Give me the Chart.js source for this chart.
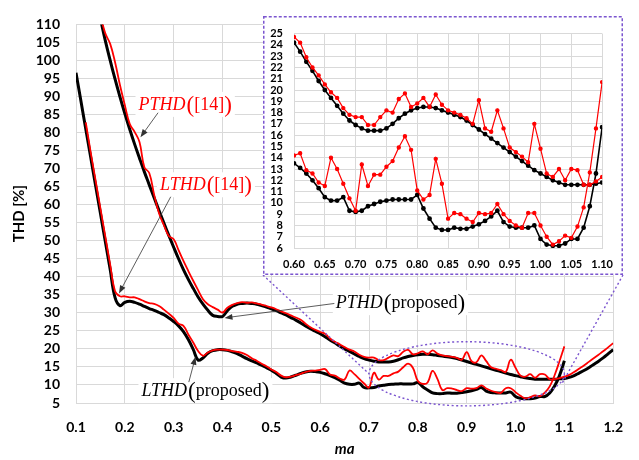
<!DOCTYPE html>
<html>
<head>
<meta charset="utf-8">
<script src="https://cdn.jsdelivr.net/npm/chart.js@4.4.1/dist/chart.umd.min.js"></script>
<style>
  html, body { margin: 0; padding: 0; background: #fff; }
  #wrap { position: relative; width: 639px; height: 460px; }
  #thdChart { position: absolute; left: 0; top: 0; }
  #zoomChart { position: absolute; left: 263px; top: 16px; }
</style>
</head>
<body>
<div id="wrap">
  <canvas id="thdChart" width="639" height="460"></canvas>
  <canvas id="zoomChart" width="360" height="259"></canvas>
</div>
<script>
// modulation index steps
const maLow = [0.10, 0.11, 0.12, 0.13, 0.14, 0.15, 0.16, 0.17, 0.18, 0.19,
  0.20, 0.21, 0.22, 0.23, 0.24, 0.25, 0.26, 0.27, 0.28, 0.29,
  0.30, 0.31, 0.32, 0.33, 0.34, 0.35, 0.36, 0.37, 0.38, 0.39,
  0.40, 0.41, 0.42, 0.43, 0.44, 0.45, 0.46, 0.47, 0.48, 0.49,
  0.50, 0.51, 0.52, 0.53, 0.54, 0.55, 0.56, 0.57, 0.58, 0.59];
const maZoom = [0.60, 0.61, 0.62, 0.63, 0.64, 0.65, 0.66, 0.67, 0.68, 0.69,
  0.70, 0.71, 0.72, 0.73, 0.74, 0.75, 0.76, 0.77, 0.78, 0.79,
  0.80, 0.81, 0.82, 0.83, 0.84, 0.85, 0.86, 0.87, 0.88, 0.89,
  0.90, 0.91, 0.92, 0.93, 0.94, 0.95, 0.96, 0.97, 0.98, 0.99,
  1.00, 1.01, 1.02, 1.03, 1.04, 1.05, 1.06, 1.07, 1.08, 1.09, 1.10];
const maHigh = [1.11, 1.12, 1.13, 1.14, 1.15, 1.16, 1.17, 1.18, 1.19, 1.20];

// PTHD, proposed
const ptPropLow = [null, null, null, null, 117.5, 111.6, 105.5, 100.0, 94.8, 89.9,
  85.3, 80.9, 76.8, 72.9, 69.1, 65.5, 61.9, 58.4, 54.9, 51.5,
  48.2, 45.0, 42.0, 39.3, 36.8, 34.4, 32.4, 30.7, 29.3, 29.0,
  29.0, 30.6, 31.8, 32.4, 32.6, 32.7, 32.6, 32.4, 32.0, 31.6,
  31.1, 30.6, 30.0, 29.4, 28.7, 28.0, 27.2, 26.4, 25.6, 24.9];
const ptPropZoom = [24.2, 23.4, 22.5, 21.7, 20.8, 20.0, 19.3, 18.6, 17.9, 17.3,
  16.9, 16.6, 16.4, 16.4, 16.4, 16.6, 17.0, 17.5, 17.9, 18.2,
  18.4, 18.5, 18.5, 18.4, 18.2, 18.0, 17.8, 17.6, 17.3, 16.9,
  16.5, 16.1, 15.7, 15.3, 14.9, 14.5, 14.1, 13.7, 13.3, 12.9,
  12.6, 12.3, 12.0, 11.8, 11.6, 11.6, 11.6, 11.6, 11.6, 11.7, 11.8];
const ptPropHigh = [12.1, 12.6, 13.3, 14.0, 14.8, 15.7, 16.6, 17.6, 18.7, 19.8];

// PTHD, method of [14]
const ptRefLow = [null, null, null, null, null, 112.5, 107.5, 104.6, 99.5, 93.2,
  87.6, 82.4, 80.2, 77.4, 70.4, 68.8, 62.8, 57.6, 54.3, 51.3,
  50.4, 47.4, 44.4, 41.6, 38.9, 36.3, 33.8, 32.4, 31.6, 30.9,
  30.1, 31.4, 32.2, 32.7, 33.0, 32.8, 32.9, 32.6, 32.3, 31.9,
  31.5, 31.0, 30.4, 29.9, 29.3, 28.7, 28.1, 27.0, 26.0, 25.3];
const ptRefZoom = [24.7, 24.2, 22.9, 22.0, 21.3, 20.5, 19.8, 19.3, 18.4, 17.8,
  17.6, 17.6, 16.9, 16.9, 17.6, 18.2, 18.0, 19.2, 19.7, 18.5,
  18.8, 19.3, 18.5, 19.6, 18.7, 18.2, 18.0, 17.8, 17.5, 17.0,
  19.1, 16.6, 16.3, 18.2, 16.6, 14.9, 14.5, 14.1, 13.6, 17.0,
  14.8, 12.6, 12.3, 13.0, 12.0, 13.0, 12.9, 11.6, 11.6, 11.9, 12.3];
const ptRefHigh = [12.8, 13.6, 14.5, 15.4, 16.4, 17.4, 18.4, 19.4, 20.5, 21.6];

// LTHD, proposed
const ltPropLow = [96.6, 88.8, 81.0, 73.2, 65.4, 57.6, 49.8, 42.0, 34.2, 32.0,
  32.9, 33.2, 32.9, 32.4, 31.8, 31.2, 30.7, 30.1, 29.5, 28.6,
  27.6, 26.4, 24.8, 22.6, 19.9, 16.9, 17.5, 18.8, 19.5, 19.8,
  19.8, 19.6, 19.2, 18.7, 18.0, 17.3, 16.7, 16.1, 15.5, 14.8,
  14.1, 13.2, 12.2, 11.9, 12.2, 12.7, 13.2, 13.6, 13.8, 13.7];
const ltPropZoom = [13.5, 13.1, 12.6, 12.0, 11.3, 10.5, 10.2, 10.2, 10.5, 9.3,
  9.2, 9.3, 9.7, 9.9, 10.1, 10.2, 10.3, 10.3, 10.3, 10.3,
  10.7, 9.5, 8.6, 7.8, 7.6, 7.6, 7.8, 7.7, 7.7, 7.9,
  8.1, 8.4, 8.8, 9.3, 8.3, 7.9, 7.8, 7.8, 7.8, 8.0,
  6.8, 6.3, 6.2, 6.2, 6.4, 6.8, 6.8, 7.8, 9.7, 12.6, 16.7];

// LTHD, method of [14]
const ltRefLow = [null, null, 82.8, 74.6, 66.8, 59.0, 51.2, 43.4, 36.0, 34.6,
  34.6, 34.3, 34.3, 33.8, 33.2, 32.7, 32.5, 31.9, 30.9, 29.8,
  28.6, 27.0, 26.4, 24.0, 21.8, 19.4, 18.1, 19.0, 19.6, 19.8,
  19.8, 19.7, 19.4, 19.2, 18.9, 18.3, 17.4, 16.7, 15.9, 15.2,
  14.3, 13.6, 12.6, 12.1, 12.3, 12.7, 13.1, 13.6, 13.9, 14.0];
const ltRefZoom = [14.2, 14.4, 12.9, 12.6, 11.8, 11.5, 14.0, 13.0, 11.7, 10.4,
  9.3, 13.4, 11.5, 12.5, 12.5, 13.2, 13.7, 14.9, 15.9, 14.7,
  11.1, 10.3, 10.7, 13.9, 11.7, 8.6, 9.1, 9.0, 8.6, 8.3,
  9.1, 9.0, 9.1, 9.9, 9.0, 8.4, 8.0, 7.8, 9.1, 9.1,
  8.0, 7.0, 6.3, 6.6, 7.1, 6.9, 7.9, 9.6, 12.7, 16.6, 20.7];

const RED = '#ff0000';
const BLACK = '#000000';
const GRID = '#d9d9d9';
const PURPLE = '#7b55cf';

Chart.defaults.font.family = 'Lato';
Chart.defaults.color = '#000';
Chart.defaults.animation = false;

function pts(xs, ys) {
  return xs.map((x, i) => ({ x: x, y: ys[i] })).filter(p => p.y !== null);
}

function arrow(c, x1, y1, x2, y2) {
  const a = Math.atan2(y2 - y1, x2 - x1);
  c.strokeStyle = '#333';
  c.fillStyle = '#333';
  c.lineWidth = 0.8;
  c.setLineDash([]);
  c.beginPath();
  c.moveTo(x1, y1);
  c.lineTo(x2 - 6 * Math.cos(a), y2 - 6 * Math.sin(a));
  c.stroke();
  c.beginPath();
  c.moveTo(x2, y2);
  c.lineTo(x2 - 8 * Math.cos(a) + 3 * Math.sin(a), y2 - 8 * Math.sin(a) - 3 * Math.cos(a));
  c.lineTo(x2 - 8 * Math.cos(a) - 3 * Math.sin(a), y2 - 8 * Math.sin(a) + 3 * Math.cos(a));
  c.closePath();
  c.fill();
}

// italic name + tall brackets around the source
function label(c, x, y, name, src, color) {
  c.font = 'italic 18px "Liberation Serif"';
  const w1 = c.measureText(name).width;
  c.font = '23px "Liberation Serif"';
  const wp = c.measureText('(').width;
  c.font = '18px "Liberation Serif"';
  const w2 = c.measureText(src).width;
  const total = w1 + 1 + wp + w2 + wp;
  c.fillStyle = '#fff';
  c.fillRect(x - 3, y - 18, total + 6, 25);
  c.fillStyle = color;
  c.textBaseline = 'alphabetic';
  c.textAlign = 'left';
  let cx = x;
  c.font = 'italic 18px "Liberation Serif"';
  c.fillText(name, cx, y);
  cx += w1 + 1;
  c.font = '23px "Liberation Serif"';
  c.fillText('(', cx, y + 2);
  cx += wp;
  c.font = '18px "Liberation Serif"';
  c.fillText(src, cx, y);
  cx += w2;
  c.font = '23px "Liberation Serif"';
  c.fillText(')', cx, y + 2);
}

const notes = [
  { name: 'PTHD', src: '[14]', color: RED, at: [0.228, 86.3], from: [0.268, 85.5], to: [0.232, 78.7] },
  { name: 'LTHD', src: '[14]', color: RED, at: [0.272, 64.0], from: [0.294, 62.2], to: [0.188, 35.4] },
  { name: 'PTHD', src: 'proposed', color: BLACK, at: [0.632, 31.3], from: [0.629, 32.6], to: [0.404, 28.6] },
  { name: 'LTHD', src: 'proposed', color: BLACK, at: [0.234, 6.9], from: [0.331, 10.8], to: [0.3447, 17.8] }
];

const zoomMarks = {
  id: 'zoomMarks',
  afterDatasetsDraw(chart) {
    const { ctx, scales: { x, y } } = chart;
    const inset = document.getElementById('zoomChart');
    ctx.save();
    // dotted ellipse around the zoomed region
    const cx = x.getPixelForValue(0.9);
    const cy = y.getPixelForValue(13.1);
    const rx = x.getPixelForValue(1.1) - cx;
    const ry = cy - y.getPixelForValue(22.0);
    ctx.strokeStyle = PURPLE;
    ctx.lineWidth = 1.4;
    ctx.setLineDash([2, 2.5]);
    ctx.beginPath();
    ctx.ellipse(cx, cy, rx, ry, 0, 0, Math.PI * 2);
    ctx.stroke();
    // connectors to the inset corners
    const bl = [inset.offsetLeft, inset.offsetTop + inset.offsetHeight];
    const br = [inset.offsetLeft + inset.offsetWidth, inset.offsetTop + inset.offsetHeight];
    ctx.beginPath();
    ctx.moveTo(bl[0], bl[1]);
    ctx.lineTo(cx - rx, cy);
    ctx.moveTo(br[0], br[1]);
    ctx.lineTo(x.getPixelForValue(1.095), y.getPixelForValue(10.4));
    ctx.stroke();

    notes.forEach(n => {
      label(ctx, x.getPixelForValue(n.at[0]), y.getPixelForValue(n.at[1]), n.name, n.src, n.color);
      arrow(ctx, x.getPixelForValue(n.from[0]), y.getPixelForValue(n.from[1]),
        x.getPixelForValue(n.to[0]), y.getPixelForValue(n.to[1]));
    });
    ctx.restore();
  }
};

new Chart(document.getElementById('thdChart'), {
  type: 'line',
  data: {
    datasets: [
      { label: 'PTHD([14])', data: pts(maLow.concat(maZoom, maHigh), ptRefLow.concat(ptRefZoom, ptRefHigh)), borderColor: RED, borderWidth: 1.8 },
      { label: 'LTHD([14])', data: pts(maLow.concat(maZoom), ltRefLow.concat(ltRefZoom)), borderColor: RED, borderWidth: 1.8 },
      { label: 'PTHD(proposed)', data: pts(maLow.concat(maZoom, maHigh), ptPropLow.concat(ptPropZoom, ptPropHigh)), borderColor: BLACK, borderWidth: 3 },
      { label: 'LTHD(proposed)', data: pts(maLow.concat(maZoom), ltPropLow.concat(ltPropZoom)), borderColor: BLACK, borderWidth: 3 }
    ]
  },
  options: {
    responsive: false,
    layout: { padding: { top: 15, right: 12, left: 0, bottom: 0 } },
    elements: {
      point: { radius: 0 },
      line: { tension: 0.4, fill: false }
    },
    datasets: { line: { clip: 0 } },
    plugins: { legend: { display: false }, tooltip: { enabled: false } },
    scales: {
      x: {
        type: 'linear',
        min: 0.1,
        max: 1.2,
        afterFit: s => { s.height = 57; },
        grid: { color: GRID, drawTicks: false },
        border: { color: GRID },
        ticks: {
          stepSize: 0.1,
          autoSkip: false,
          maxRotation: 0,
          padding: 16,
          font: { size: 14, weight: 'bold' },
          callback: v => v.toFixed(1)
        },
        title: {
          display: true,
          text: 'ma',
          padding: { top: 0, bottom: 2 },
          font: { size: 15, weight: 'bold', style: 'italic' }
        }
      },
      y: {
        min: 5,
        max: 110,
        afterFit: s => { s.width = 76; },
        grid: { color: GRID, drawTicks: false },
        border: { color: GRID },
        ticks: {
          stepSize: 5,
          autoSkip: false,
          padding: 16,
          font: { size: 14, weight: 'bold' }
        },
        title: {
          display: true,
          text: 'THD [%]',
          padding: { top: 10, bottom: 0 },
          font: { size: 15, weight: 'bold' }
        }
      }
    }
  },
  plugins: [zoomMarks]
});

// white card with dashed purple frame for the zoomed view
const insetFrame = {
  id: 'insetFrame',
  beforeDraw(chart) {
    const { ctx } = chart;
    ctx.save();
    ctx.fillStyle = '#fff';
    ctx.fillRect(0, 0, chart.width, chart.height);
    ctx.restore();
  },
  afterDraw(chart) {
    const { ctx } = chart;
    ctx.save();
    ctx.strokeStyle = PURPLE;
    ctx.lineWidth = 1.5;
    ctx.setLineDash([3, 2]);
    ctx.strokeRect(0.75, 0.75, chart.width - 1.5, chart.height - 1.5);
    ctx.restore();
  }
};

new Chart(document.getElementById('zoomChart'), {
  type: 'line',
  data: {
    datasets: [
      { label: 'PTHD([14])', data: pts(maZoom, ptRefZoom), borderColor: RED, backgroundColor: RED, borderWidth: 1.2 },
      { label: 'LTHD([14])', data: pts(maZoom, ltRefZoom), borderColor: RED, backgroundColor: RED, borderWidth: 1.2 },
      { label: 'PTHD(proposed)', data: pts(maZoom, ptPropZoom), borderColor: BLACK, backgroundColor: BLACK, borderWidth: 1.6 },
      { label: 'LTHD(proposed)', data: pts(maZoom, ltPropZoom), borderColor: BLACK, backgroundColor: BLACK, borderWidth: 1.6 }
    ]
  },
  options: {
    responsive: false,
    layout: { padding: { top: 11, right: 15, left: 0, bottom: 0 } },
    elements: {
      point: { radius: 1.6, borderWidth: 0 },
      line: { tension: 0, fill: false }
    },
    plugins: { legend: { display: false }, tooltip: { enabled: false } },
    scales: {
      x: {
        type: 'linear',
        min: 0.6,
        max: 1.1,
        afterFit: s => { s.height = 27; },
        grid: { color: GRID, drawTicks: false },
        border: { color: GRID },
        ticks: {
          stepSize: 0.05,
          autoSkip: false,
          maxRotation: 0,
          padding: 10,
          font: { size: 11, weight: 'bold' },
          callback: v => v.toFixed(2)
        }
      },
      y: {
        min: 6,
        max: 25,
        afterFit: s => { s.width = 31; },
        grid: { color: GRID, drawTicks: false },
        border: { color: GRID },
        ticks: {
          stepSize: 1,
          autoSkip: false,
          padding: 11,
          font: { size: 11, weight: 'bold' }
        }
      }
    }
  },
  plugins: [insetFrame]
});
</script>
</body>
</html>
